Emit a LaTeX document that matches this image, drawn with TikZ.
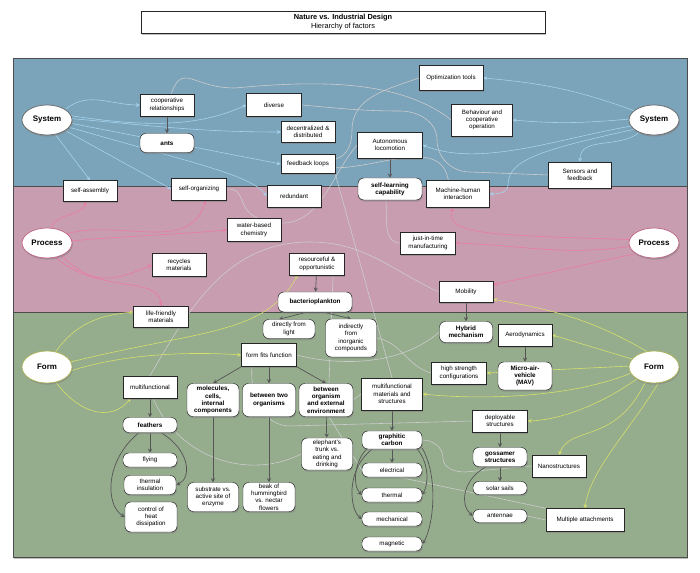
\documentclass[tikz,border=0pt]{standalone}
\usepackage{fontspec}
\setmainfont{Liberation Sans}
\usepackage{xcolor}
\usepackage{tikz}
\usetikzlibrary{shapes.geometric, arrows, positioning, backgrounds, shadows}

\definecolor{bandblue}{HTML}{7BA3BA}
\definecolor{bandpink}{HTML}{C89DAF}
\definecolor{bandgreen}{HTML}{95AC8D}
\definecolor{arrowblue}{HTML}{A5D3EE}
\definecolor{arrowpink}{HTML}{EC7AA3}
\definecolor{arrowyellow}{HTML}{D7E16B}
\definecolor{linkgrey}{HTML}{CDCDCD}
\definecolor{darkline}{HTML}{555555}

\pgfdeclarelayer{bands}
\pgfsetlayers{bands,background,main}

\begin{document}
\begin{tikzpicture}[x=0.03cm, y=-0.03cm,
    box/.style={draw=black!85, rectangle, fill=white, minimum width=1.62cm, minimum height=0.66cm, inner sep=0.5pt, align=center, font=\fontsize{5.3}{6.2}\selectfont, drop shadow={shadow xshift=0.7pt, shadow yshift=-1.4pt, opacity=0.5}},
    rbox/.style={box, rounded corners=5pt},
    strong/.style={font=\fontsize{5.4}{6.2}\selectfont\bfseries},
    oval/.style={draw, ellipse, fill=white, line width=0.6pt, minimum width=1.5cm, minimum height=0.9cm, inner sep=0pt, font=\fontsize{6.8}{8}\selectfont\bfseries, drop shadow={shadow xshift=0.7pt, shadow yshift=-1.4pt, opacity=0.5}},
    bluearrow/.style={draw=arrowblue, line width=0.5pt, ->, >=stealth},
    pinkarrow/.style={draw=arrowpink, line width=0.5pt, ->, >=stealth},
    yellowarrow/.style={draw=arrowyellow, line width=0.5pt, ->, >=stealth},
    dark/.style={draw=darkline, line width=0.6pt, ->, >=stealth},
    link/.style={draw=linkgrey, line width=0.5pt}
]
\useasboundingbox (0,0) rectangle (700,573);

% Bands
\begin{pgfonlayer}{bands}
    \fill [white, drop shadow={shadow xshift=1pt, shadow yshift=-1.5pt, opacity=0.5}] (13,58) rectangle (687,557);
    \fill [bandblue] (13,58) rectangle (687,186);
    \fill [bandpink] (13,186) rectangle (687,312);
    \fill [bandgreen] (13,312) rectangle (687,557);
    \draw [black!70, line width=0.8pt] (13,58) rectangle (687,557);
    \draw [black!70, line width=0.8pt] (13,186) -- (687,186) (13,312) -- (687,312);
\end{pgfonlayer}

% Title
\node (title) [box, minimum width=12.12cm, minimum height=0.66cm, font=\fontsize{6.3}{7.4}\selectfont] at (343,22) {\textbf{Nature vs. Industrial Design}\\Hierarchy of factors};

% System level
\node (sysL) [oval, draw=black!60] at (47,120) {System};
\node (sysR) [oval, draw=black!60] at (654,120) {System};
\node (coop) [box] at (167,105) {cooperative\\relationships};
\node (ants) [rbox, strong, minimum height=0.57cm] at (167,143) {ants};
\node (diverse) [box, minimum width=1.65cm, minimum height=0.69cm] at (274,105) {diverse};
\node (decent) [box, minimum height=0.63cm] at (308,132) {decentralized \&\\distributed};
\node (feedback) [box, minimum height=0.57cm] at (308,164) {feedback loops};
\node (selfassembly) [box, minimum height=0.63cm] at (90,191) {self-assembly};
\node (selforg) [box, minimum width=1.65cm] at (199,189) {self-organizing};
\node (redundant) [box] at (294,196) {redundant};
\node (optim) [box, minimum width=1.92cm, minimum height=0.75cm] at (451,78) {Optimization tools};
\node (behaviour) [box, minimum width=1.83cm, minimum height=0.96cm] at (482,120) {Behaviour and\\cooperative\\operation};
\node (autonomous) [box, minimum width=1.95cm, minimum height=0.78cm] at (390,145) {Autonomous\\locomotion};
\node (selflearn) [rbox, strong, minimum width=1.92cm] at (390,189) {self-learning\\capability};
\node (machine) [box, minimum width=1.89cm, minimum height=0.81cm] at (458,194) {Machine-human\\interaction};
\node (sensors) [box, minimum width=1.89cm, minimum height=0.78cm] at (580,175) {Sensors and\\feedback};

% Process level
\node (procL) [oval, draw=arrowpink!80!black] at (47,243) {Process};
\node (procR) [oval, draw=arrowpink!80!black] at (654,243) {Process};
\node (water) [box, minimum height=0.69cm] at (254,230) {water-based\\chemistry};
\node (recycles) [box, minimum height=0.69cm] at (179,265) {recycles\\materials};
\node (resourceful) [box, minimum width=1.65cm] at (317,264) {resourceful \&\\opportunistic};
\node (bacterio) [rbox, strong, minimum width=2.22cm, minimum height=0.6cm] at (315,302) {bacterioplankton};
\node (lifefriendly) [box, minimum width=1.65cm, minimum height=0.63cm] at (161,317) {life-friendly\\materials};
\node (jit) [box, minimum width=1.65cm] at (428,243) {just-in-time\\manufacturing};
\node (mobility) [box, minimum height=0.63cm] at (466,292) {Mobility};

% Form level
\node (formL) [oval, draw=arrowyellow!80!black, minimum height=0.96cm] at (47,367) {Form};
\node (formR) [oval, draw=arrowyellow!80!black, minimum height=0.96cm] at (654,367) {Form};
\node (multi) [box] at (150,387) {multifunctional};
\node (feathers) [rbox, strong, minimum height=0.45cm] at (150,425) {feathers};
\node (flying) [rbox, minimum height=0.42cm] at (150,460) {flying};
\node (thermins) [rbox, minimum width=1.56cm, minimum height=0.57cm] at (150,485) {thermal\\insulation};
\node (heat) [rbox, minimum width=1.56cm, minimum height=0.9cm] at (151,517) {control of\\heat\\dissipation};
\node (fff) [box, minimum width=1.65cm, minimum height=0.69cm] at (269,355) {form fits function};
\node (direct) [rbox, minimum width=1.56cm, minimum height=0.57cm] at (289,329) {directly from\\light};
\node (indirect) [rbox, minimum width=1.53cm, minimum height=1.14cm] at (351,338) {indirectly\\from\\inorganic\\compounds};
\node (molecules) [rbox, strong, minimum width=1.56cm, minimum height=0.99cm] at (213,400) {molecules,\\cells,\\internal\\components};
\node (twoorg) [rbox, strong, minimum width=1.59cm, minimum height=0.99cm] at (269,400) {between two\\organisms};
\node (orgenv) [rbox, strong, minimum width=1.62cm, minimum height=0.99cm] at (326,400) {between\\organism\\and external\\environment};
\node (substrate) [rbox, minimum width=1.53cm, minimum height=0.87cm] at (213,497) {substrate vs.\\active site of\\enzyme};
\node (beak) [rbox, minimum width=1.56cm, minimum height=0.87cm] at (269,497) {beak of\\hummingbird\\vs. nectar\\flowers};
\node (elephant) [rbox, minimum width=1.53cm, minimum height=0.96cm] at (327,454) {elephant's\\trunk vs.\\eating and\\drinking};
\node (multimat) [box, minimum width=1.83cm, minimum height=0.96cm] at (392,394) {multifunctional\\materials and\\structures};
\node (graphitic) [rbox, strong, minimum width=1.8cm, minimum height=0.54cm] at (392,440) {graphitic\\carbon};
\node (electrical) [rbox, minimum width=1.8cm, minimum height=0.42cm] at (392,470) {electrical};
\node (thermal) [rbox, minimum width=1.8cm, minimum height=0.42cm] at (392,495) {thermal};
\node (mechanical) [rbox, minimum width=1.8cm, minimum height=0.42cm] at (392,519) {mechanical};
\node (magnetic) [rbox, minimum width=1.8cm, minimum height=0.42cm] at (392,544) {magnetic};
\node (hybrid) [rbox, strong, minimum width=1.59cm, minimum height=0.63cm] at (466,332) {Hybrid\\mechanism};
\node (aero) [box] at (525,335) {Aerodynamics};
\node (mav) [rbox, strong, minimum height=0.84cm] at (525,376) {Micro-air-\\vehicle\\(MAV)};
\node (highstr) [box, minimum width=1.65cm] at (459,373) {high strength\\configurations};
\node (deploy) [box, minimum width=1.65cm] at (500,421) {deployable\\structures};
\node (gossamer) [rbox, strong, minimum height=0.57cm] at (500,457) {gossamer\\structures};
\node (solar) [rbox, minimum height=0.39cm] at (500,488) {solar sails};
\node (antennae) [rbox, minimum height=0.39cm] at (500,516) {antennae};
\node (nano) [box] at (559,466) {Nanostructures};
\node (multattach) [box, minimum width=2.34cm, minimum height=0.69cm] at (585,520) {Multiple attachments};

% Edges
\begin{scope}[on background layer]
    % cross links
    \draw [link] (coop.70) .. controls (183,62) and (192,88) .. (235,88) .. controls (320,80) and (400,80) .. (behaviour.west);
    \draw [link] (diverse.east) to[out=-5,in=180] (400,111) to[out=0,in=90] (437,140) to[out=-90,in=180] (470,172) -- (sensors.west);
    \draw [link] (feedback.10) to[out=15,in=-90] (352,130) to[out=90,in=200] (optim.west);
    \draw [link] (feedback.-8) to[out=0,in=100] (machine.125);
    \draw [link] (selforg.east) .. controls (250,188) and (232,215) .. (270,222) .. controls (320,232) and (330,175) .. (autonomous.west);
    \draw [link] (feedback.south east) -- (multimat.north);
    \draw [link] (mobility.west) to[out=155,in=0] (310,242) to[out=180,in=60] (multi.north);
    \draw [link] (selflearn.-110) to[out=-85,in=180] (jit.west);
    \draw [link] (resourceful.-35) -- (orgenv.80);
    \draw [link] ([xshift=-0.51cm]fff.south) to[out=-95,in=180] (290,426) -- (deploy.west);
    \draw [link] (fff.east) .. controls (340,366) and (400,366) .. (hybrid.west);
    \draw [link] (indirect.east) to[out=-10,in=165] (highstr.west);
    \draw [link] (orgenv.east) -- (multimat.west);
    \draw [link] (multi.-75) .. controls (180,460) and (250,480) .. (elephant.west);
    \draw [link] (orgenv.-80) -- (electrical.west);
    \draw [link] (graphitic.east) to[out=0,in=90] (443,458) to[out=-90,in=180] (465,472) -- (nano.west);
    \draw [link] (electrical.-45) -- (multattach.north west);
    \draw [link] (antennae.east) -- (multattach.west);

    % System
    \draw [bluearrow] (sysL.30) to[out=40,in=180] (coop.west);
    \draw [bluearrow] (sysL.10) .. controls (150,128) and (200,126) .. (diverse.west);
    \draw [bluearrow] (sysL.3) to[out=-5,in=180] (decent.west);
    \draw [bluearrow] (sysL.-8) -- (feedback.west);
    \draw [bluearrow] (sysL.-18) .. controls (200,165) and (250,175) .. (redundant.west);
    \draw [bluearrow] (sysL.-30) -- (selforg.west);
    \draw [bluearrow] (sysL.-60) -- (selfassembly.north);
    \draw [bluearrow] (sysR.155) to[out=160,in=-5] (optim.east);
    \draw [bluearrow] (sysR.178) to[out=185,in=-5] (behaviour.east);
    \draw [bluearrow] (sysR.195) .. controls (560,138) and (480,168) .. (autonomous.east);
    \draw [bluearrow] (sysR.205) .. controls (540,150) and (508,160) .. (508,185) to[out=-90,in=0] (machine.east);
    \draw [bluearrow] (sysR.220) to[out=220,in=90] (sensors.north);

    % Process
    \draw [pinkarrow] (procL.75) to[out=70,in=-110] (selfassembly.250);
    \draw [pinkarrow] (procL.25) to[out=15,in=-105] (selforg.-60);
    \draw [pinkarrow] (procL.5) to[out=5,in=185] (water.west);
    \draw [pinkarrow] (procL.-40) .. controls (95,290) and (120,278) .. (recycles.west);
    \draw [pinkarrow] (procL.-60) .. controls (100,295) and (160,275) .. (lifefriendly.north);
    \draw [pinkarrow] (procR.172) .. controls (490,235) and (445,235) .. (machine.-110);
    \draw [pinkarrow] (procR.188) to[out=188,in=-2] (jit.east);
    \draw [pinkarrow] (procR.210) -- (mobility.15);

    % Form
    \draw [yellowarrow] (formL.60) to[out=55,in=185] (lifefriendly.170);
    \draw [yellowarrow] (formL.12) .. controls (200,330) and (265,335) .. (resourceful.210);
    \draw [yellowarrow] (formL.-8) .. controls (130,352) and (200,352) .. (fff.west);
    \draw [yellowarrow] (formL.-60) .. controls (85,420) and (115,418) .. (multi.210);
    \draw [yellowarrow] (formR.115) to[out=150,in=-10] (mobility.-15);
    \draw [yellowarrow] (formR.160) -- (aero.east);
    \draw [yellowarrow] (formR.178) -- (highstr.east);
    \draw [yellowarrow] (formR.195) .. controls (570,398) and (480,400) .. (multimat.east);
    \draw [yellowarrow] (formR.215) .. controls (600,405) and (560,420) .. (deploy.east);
    \draw [yellowarrow] (formR.240) .. controls (615,445) and (570,425) .. (nano.north);
    \draw [yellowarrow] (formR.-75) .. controls (630,430) and (590,470) .. (multattach.north);

    % Hierarchy
    \draw [dark] (coop) -- (ants);
    \draw [dark] (autonomous) -- (selflearn);
    \draw [dark] (resourceful) -- (bacterio);
    \draw [dark] (bacterio.-130) -- ([xshift=-0.3cm]direct.north);
    \draw [dark] (bacterio.-50) -- (indirect.north);
    \draw [dark] (mobility) -- (hybrid);
    \draw [dark] (aero) -- (mav);
    \draw [dark] (fff.south west) -- (molecules.north);
    \draw [dark] (fff) -- (twoorg);
    \draw [dark] (fff.south east) -- (orgenv.north);
    \draw [dark] (multi) -- (feathers);
    \draw [dark] (feathers) -- (flying);
    \draw [dark] (feathers.-35) .. controls (190,450) and (192,478) .. (thermins.east);
    \draw [dark] (feathers.-145) .. controls (105,460) and (105,505) .. (heat.west);
    \draw [dark] (molecules) -- (substrate);
    \draw [dark] (twoorg) -- (beak);
    \draw [dark] (orgenv) -- (elephant);
    \draw [dark] (multimat) -- (graphitic);
    \draw [dark] (graphitic) -- (electrical);
    \draw [dark] (graphitic.-160) .. controls (355,460) and (352,485) .. (thermal.west);
    \draw [dark] (graphitic.-155) .. controls (345,470) and (350,510) .. (mechanical.west);
    \draw [dark] (graphitic.-20) .. controls (430,465) and (428,485) .. (thermal.east);
    \draw [dark] (graphitic.-15) .. controls (440,480) and (432,530) .. (magnetic.east);
    \draw [dark] (deploy) -- (gossamer);
    \draw [dark] (gossamer) -- (solar);
    \draw [dark] (gossamer.-145) .. controls (462,480) and (460,505) .. (antennae.west);
\end{scope}

\end{tikzpicture}
\end{document}
